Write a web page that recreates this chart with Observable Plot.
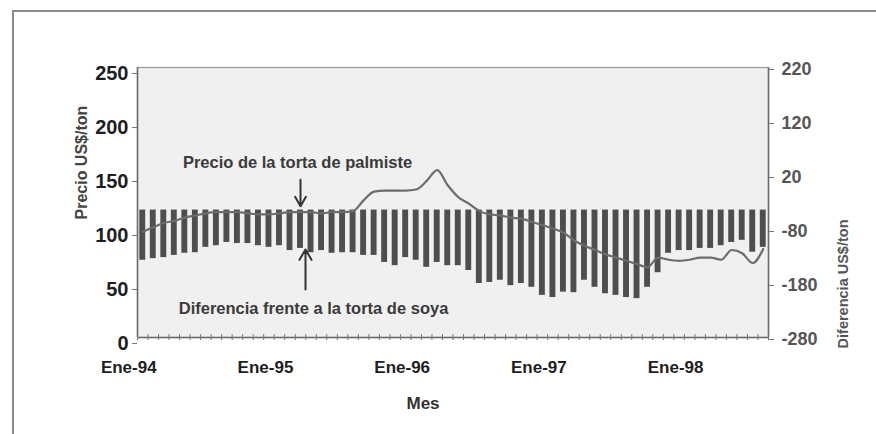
<!DOCTYPE html>
<html>
<head>
<meta charset="utf-8">
<script src="https://cdn.jsdelivr.net/npm/d3@7"></script>
<script src="https://cdn.jsdelivr.net/npm/@observablehq/plot@0.6"></script>
<style>
  html, body { margin: 0; padding: 0; background: #ffffff; }
  #wrap { position: relative; width: 876px; height: 434px; overflow: hidden; }
  #border { position: absolute; left: 12px; top: 10px; width: 900px; height: 440px;
            border-top: 2px solid #8a8a8a; border-left: 2px solid #8a8a8a; }
  #chart { position: absolute; left: 0; top: 0; }
</style>
</head>
<body>
<div id="wrap"><div id="border"></div><div id="chart"></div></div>
<script>
// Monthly observations (index 0 = Ene-94)
const priceLine = [98,102,106,108,111,113,115,116,116,116,115,114,114,115,116,116,116,115,116,116,
                   117,127,135,136,136,136,137,145,155,141,130,124,117,114,113,111,110,107,104,101,
                   97,90,85,81,77,74,71,68,65,74,72,71,72,74,74,72,81,78,69,82];
const diffBars = [-137,-134,-132,-128,-124,-123,-113,-110,-104,-106,-106,-110,-113,-110,-119,-115,-123,-119,-124,-123,
                  -123,-128,-128,-141,-147,-132,-137,-150,-141,-147,-147,-156,-180,-178,-174,-184,-180,-187,-202,-206,
                  -196,-197,-174,-187,-199,-202,-206,-208,-187,-160,-124,-119,-119,-115,-115,-110,-104,-100,-122,-113];
const diffBase = -44;
const leftTicks = [0, 50, 100, 150, 200, 250];
const rightTicks = [-280, -180, -80, 20, 120, 220];
const yearLabels = ["Ene-94", "Ene-95", "Ene-96", "Ene-97", "Ene-98"];
const yearLabelMonths = [0, 13, 26, 39, 52];
const annotationMonth = [15];
const priceLabel = "Precio de la torta de palmiste";
const diffLabel = "Diferencia frente a la torta de soya";
const leftTitle = "Precio US$/ton";
const rightTitle = "Diferencia US$/ton";
const xTitle = "Mes";

const months = d3.range(priceLine.length);
const data = months.map(i => ({i, price: priceLine[i], diff: diffBars[i]}));
const toLeft = v => (v + 280) / 2; // right axis (-280..220) onto left axis (0..250)
const monthEdges = d3.range(priceLine.length + 1).map(i => i - 0.5);

const FONT = "'Liberation Sans', Arial, sans-serif";

const chart = Plot.plot({
  width: 876,
  height: 434,
  marginLeft: 137,
  marginRight: 108,
  marginTop: 67,
  marginBottom: 97,
  x: {domain: [-0.5, priceLine.length - 0.5]},
  y: {domain: [0, 250]},
  style: {background: "transparent", fontFamily: FONT, fontWeight: "bold", overflow: "visible"},
  marks: [
    Plot.frame({fill: "#f1f0f1", stroke: "#9a9a9a", strokeWidth: 1.2}),
    Plot.rectY(data, {
      x1: d => d.i - 0.28, x2: d => d.i + 0.28,
      y1: toLeft(diffBase), y2: d => toLeft(d.diff),
      fill: "#4e4e4e"
    }),
    Plot.line(data, {x: "i", y: "price", stroke: "#6c6c6c", strokeWidth: 2.2, curve: "monotone-x"}),
    Plot.ruleX([-0.5], {stroke: "#6a6a6a", strokeWidth: 1.5}),
    Plot.ruleX([priceLine.length - 0.5], {stroke: "#6a6a6a", strokeWidth: 1.5}),
    Plot.ruleY([0], {stroke: "#6a6a6a", strokeWidth: 1.5}),
    Plot.axisY({ticks: leftTicks, tickSize: 5, tickPadding: 4, fontSize: 20, dy: 6,
                color: "#1e1e1e", stroke: "#777", label: null, fontFamily: FONT, fontWeight: "bold"}),
    Plot.axisY({anchor: "right", ticks: rightTicks.map(toLeft), tickFormat: d => String(Math.round(d * 2 - 280)),
                tickSize: 5, tickPadding: 8, fontSize: 18, dy: 2,
                color: "#555", stroke: "#777", label: null, fontFamily: FONT, fontWeight: "bold"}),
    Plot.axisX({ticks: monthEdges, tickSize: 3, tickFormat: () => "", stroke: "#777", label: null}),
    Plot.axisX({ticks: monthEdges, tickSize: -3, tickFormat: () => "", stroke: "#777", label: null}),
    Plot.axisX({ticks: yearLabelMonths, tickSize: 0, tickPadding: 23, dx: -14,
                tickFormat: d => yearLabels[yearLabelMonths.indexOf(d)],
                fontSize: 17, color: "#1e1e1e", label: null, fontFamily: FONT, fontWeight: "bold"}),
    Plot.text([leftTitle], {frameAnchor: "left", rotate: -90, dx: -56, dy: 17,
               fontSize: 16, fill: "#444", fontFamily: FONT, fontWeight: "bold"}),
    Plot.text([rightTitle], {frameAnchor: "right", rotate: -90, dx: 75, dy: 17,
               fontSize: 14.5, fill: "#555", fontFamily: FONT, fontWeight: "bold"}),
    Plot.text([xTitle], {frameAnchor: "bottom", dx: -30, dy: 71,
               fontSize: 17, fill: "#333", fontFamily: FONT, fontWeight: "bold"}),
    // annotations anchored to the data of the annotated month
    Plot.text(annotationMonth, {x: d => d, y: d => priceLine[d], text: () => priceLabel, dx: -3, dy: -50,
               fontSize: 16.5, fill: "#3a3a3a", fontFamily: FONT, fontWeight: "bold"}),
    Plot.arrow(annotationMonth, {x1: d => d, x2: d => d, y1: d => priceLine[d] + 30, y2: d => priceLine[d],
               insetEnd: 6, headLength: 9, stroke: "#333", strokeWidth: 2}),
    Plot.text(annotationMonth, {x: d => d, y: d => toLeft(diffBars[d]), text: () => diffLabel, dx: 13, dy: 60,
               fontSize: 16.5, fill: "#3a3a3a", fontFamily: FONT, fontWeight: "bold"}),
    Plot.arrow(annotationMonth, {x1: d => d, x2: d => d, y1: d => toLeft(diffBars[d]) - 38, y2: d => toLeft(diffBars[d]),
               insetEnd: 1, headLength: 9, dx: 5, stroke: "#333", strokeWidth: 2})
  ]
});
document.getElementById("chart").append(chart);
</script>
</body>
</html>
